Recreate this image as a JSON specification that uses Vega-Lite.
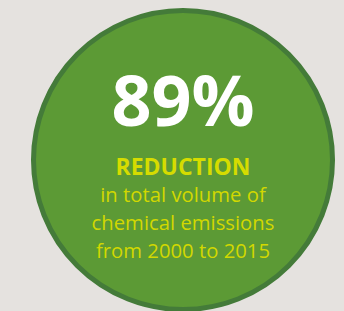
{
  "$schema": "https://vega.github.io/schema/vega-lite/v6.json",
  "width": 344,
  "height": 311,
  "autosize": {"type": "fit", "contains": "padding"},
  "padding": {"left": 22, "right": 0, "top": 9, "bottom": 0},
  "background": "#e5e2df",
  "view": {"stroke": null},
  "datasets": {
    "badge": [{"value": 89}],
    "lines": [
      {"text": "89%", "line": 0, "role": "headline"},
      {"text": "REDUCTION", "line": 1, "role": "title"},
      {"text": "in total volume of", "line": 2, "role": "body"},
      {"text": "chemical emissions", "line": 3, "role": "body"},
      {"text": "from 2000 to 2015", "line": 4, "role": "body"}
    ]
  },
  "layer": [
    {
      "data": {"name": "badge"},
      "mark": {"type": "point", "shape": "circle", "filled": true, "size": 89401, "fill": "#5c9a35", "stroke": "#447b39", "strokeWidth": 5, "opacity": 1, "strokeOpacity": 1},
      "encoding": {}
    },
    {
      "data": {"name": "lines"},
      "transform": [{"filter": "datum.role === 'headline'"}],
      "mark": {"type": "text", "font": "Open Sans", "fontWeight": "bold", "fontSize": 70, "color": "#ffffff", "align": "center", "baseline": "alphabetic", "dy": -20.5},
      "encoding": {
        "y": {"field": "line", "type": "quantitative", "scale": {"domain": [-4.825, 5.772], "reverse": true, "nice": false, "zero": false}, "axis": null},
        "text": {"field": "text", "type": "nominal"}
      }
    },
    {
      "data": {"name": "lines"},
      "transform": [{"filter": "datum.role === 'title'"}],
      "mark": {"type": "text", "font": "Open Sans", "fontWeight": "bold", "fontSize": 23, "color": "#d6dc00", "align": "center", "baseline": "alphabetic"},
      "encoding": {
        "y": {"field": "line", "type": "quantitative", "scale": {"domain": [-4.825, 5.772], "reverse": true, "nice": false, "zero": false}, "axis": null},
        "text": {"field": "text", "type": "nominal"}
      }
    },
    {
      "data": {"name": "lines"},
      "transform": [{"filter": "datum.role === 'body'"}],
      "mark": {"type": "text", "font": "Open Sans", "fontSize": 20.3, "color": "#d2d800", "align": "center", "baseline": "alphabetic"},
      "encoding": {
        "y": {"field": "line", "type": "quantitative", "scale": {"domain": [-4.825, 5.772], "reverse": true, "nice": false, "zero": false}, "axis": null},
        "text": {"field": "text", "type": "nominal"}
      }
    }
  ]
}
